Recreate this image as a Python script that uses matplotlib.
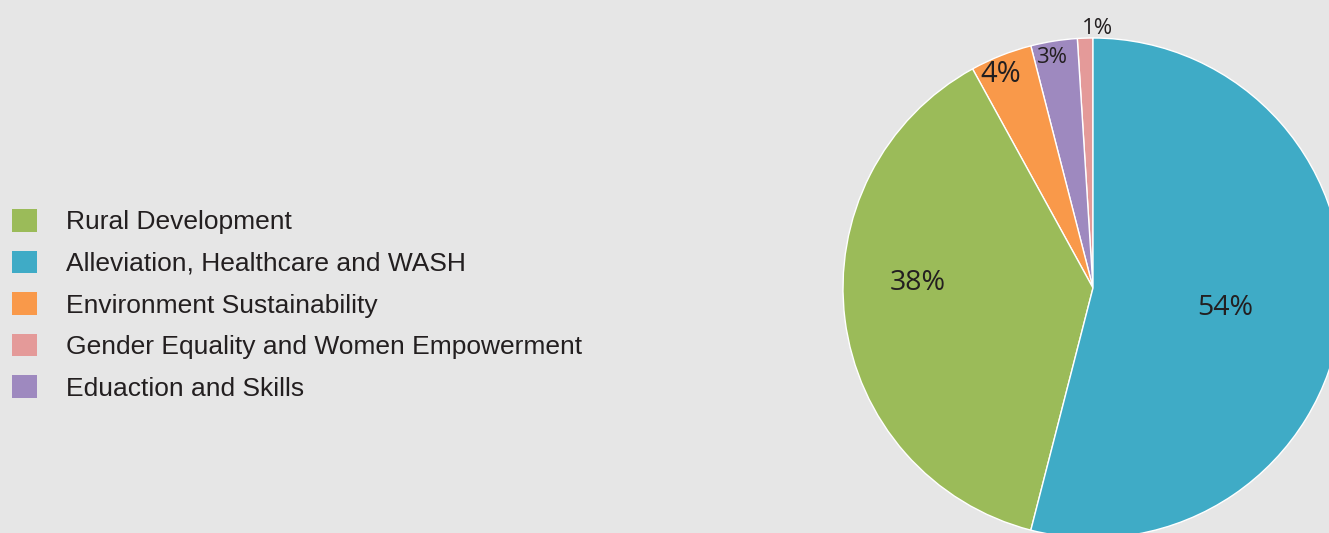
import matplotlib.pyplot as plt
from matplotlib.patches import Patch

# data (pie drawn counter-clockwise from 12 o'clock)
categories = ["Gender Equality and Women Empowerment", "Eduaction and Skills",
              "Environment Sustainability", "Rural Development",
              "Alleviation, Healthcare and WASH"]
shares = [1, 3, 4, 38, 54]
colors = ["#e49a99", "#9e89bf", "#f9994a", "#9bbb59", "#3fabc6"]
pct_labels = ["1%", "3%", "4%", "38%", "54%"]
legend_order = ["Rural Development", "Alleviation, Healthcare and WASH",
                "Environment Sustainability", "Gender Equality and Women Empowerment",
                "Eduaction and Skills"]

BG = "#e6e6e6"
fig = plt.figure(figsize=(13.29, 5.33), dpi=100, facecolor=BG)

W, H = 1329, 533
cx, cy, r = 1093, 288, 250
ax = fig.add_axes([(cx - r) / W, (H - cy - r) / H, 2 * r / W, 2 * r / H])
ax.set_facecolor(BG)
wedges, _ = ax.pie(shares, colors=colors, startangle=90, counterclock=True,
                   radius=1, wedgeprops=dict(edgecolor="white", linewidth=1))
ax.set_xlim(-1, 1)
ax.set_ylim(-1, 1)
ax.set_aspect("equal")
ax.axis("off")
for w in wedges:
    w.set_clip_on(False)

# label placement (x, y in pie units) and sizes
label_pos = [(0.02, 1.038), (-0.164, 0.922), (-0.368, 0.853), (-0.70, 0.02), (0.528, -0.08)]
label_size = [16, 16, 21, 20.5, 20.5]
for txt, (x, y), s in zip(pct_labels, label_pos, label_size):
    ax.text(x, y, txt, ha="center", va="center", fontsize=s, color="#231f20",
            family="Open Sans")

cmap = dict(zip(categories, colors))
handles = [Patch(facecolor=cmap[c], edgecolor="none") for c in legend_order]
fig.legend(handles, legend_order, loc="upper left",
           bbox_to_anchor=(12 / W, 1 - 209 / H), frameon=False,
           prop=dict(family="Liberation Sans", size=19),
           handlelength=0.95, handleheight=0.95, handletextpad=1.1,
           labelspacing=0.61, borderpad=0, borderaxespad=0,
           labelcolor="#231f20")

fig.savefig("out.png", dpi=100, facecolor=BG)
